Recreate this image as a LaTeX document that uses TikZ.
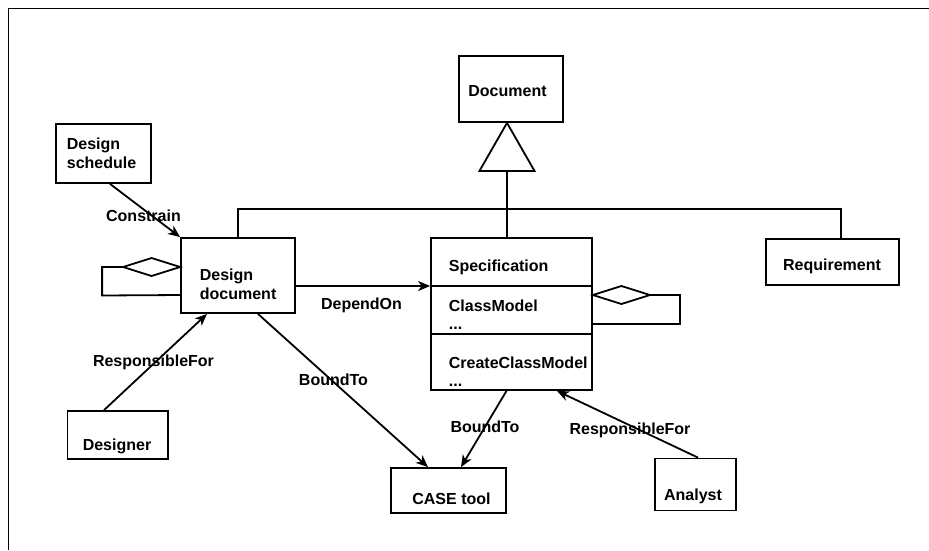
\documentclass[tikz,border=0pt]{standalone}
\usepackage{fontspec}
\setmainfont{Liberation Sans}
\usetikzlibrary{arrows.meta}
\begin{document}
\begin{tikzpicture}[x=1pt,y=-1pt,
  line width=1.8pt,
  box/.style={draw, rectangle, inner sep=0pt},
  txt/.style={inner sep=0pt, anchor=base, font=\bfseries\fontsize{16}{19}\selectfont},
  txtl/.style={txt, anchor=base west, align=left},
  arr/.style={-{Stealth[length=12pt,width=10pt,inset=3.5pt]}}
]
\useasboundingbox (0,0) rectangle (929,550);
\fill[white] (0,0) rectangle (929,550);
% frame
\draw[line width=1.8pt] (8.5,550) -- (8.5,8.5) -- (929,8.5);

% class boxes
\node[box, minimum width=104pt, minimum height=66pt] (doc)   at (511,89)  {};
\node[box, minimum width=95pt,  minimum height=59pt] (sched) at (103.5,153.5) {};
\node[box, minimum width=114pt, minimum height=75pt] (dd)    at (238,275.5) {};
\node[box, minimum width=161pt, minimum height=152pt] (spec) at (511.5,314) {};
\node[box, minimum width=133pt, minimum height=46pt] (req)   at (832.5,262) {};
\node[box, minimum width=100.5pt, minimum height=48pt] (dsg)  at (117.75,435) {};
\node[box, minimum width=115pt, minimum height=45pt] (case)  at (448.5,490.5) {};
\node[box, minimum width=81pt,  minimum height=52pt] (ana)   at (695.5,484.5) {};

% compartments of Specification
\draw (spec.west |- 0,286) -- (spec.east |- 0,286);
\draw (spec.west |- 0,334) -- (spec.east |- 0,334);

% texts (multi-line nodes sit on the baseline of their last line)
\node[txt] (tdoc) at (507.5,96) {Document};
\node[txtl] (tsched) at (66,168.3) {Design\\schedule};
\node[txtl] (tdd) at (199,299.3) {Design\\document};
\node[txtl] (tspec) at (448,271) {Specification};
\node[txtl] (tcm) at (448,311) {ClassModel};
\node[txtl] (tcmd) at (448,329) {...};
\node[txtl] (tccm) at (448,368) {CreateClassModel};
\node[txtl] (tccmd) at (448,386) {...};
\node[txt] (treq) at (832,270) {Requirement};
\node[txt] (tdsg) at (117,450) {Designer};
\node[txt] (tcase) at (451.5,504) {CASE tool};
\node[txt] (tana) at (693,500.5) {Analyst};

% generalization
\coordinate (apex) at ([xshift=-4pt]doc.south);
\draw[line join=miter] (apex) -- ++(27.5,48) -- ++(-55,0) -- cycle;
\coordinate (tribase) at ([yshift=-48pt]apex);
\draw (tribase) -- (tribase |- spec.north);
\draw (dd.north) -- (dd.north |- 0,209) -- (841,209) coordinate (rcorner) -- (rcorner |- req.north);

% aggregation loops
\coordinate (ddA) at ([yshift=8.5pt]dd.west);
\draw[line join=miter] (ddA) -- ++(-28.5,-9) -- ++(-28.5,9) -- ++(28.5,9) -- cycle;
\draw (ddA) ++(-57,0) -- ++(-21,0) -- ++(0,28.5) -- ([yshift=-19.5pt]dd.west);
\coordinate (spA) at (spec.east |- 0,295);
\draw[line join=miter] (spA) -- ++(28.5,-9) -- ++(28.5,9) -- ++(-28.5,9) -- cycle;
\draw (spA) ++(57,0) -- ++(30,0) -- ++(0,29) -- (spec.east |- 0,324);

% associations
\draw[arr] ([xshift=6.5pt]sched.south) -- (dd.north west);
\draw[arr] ([yshift=-10.5pt]dd.east) -- (spec.west |- 0,286);
\draw[arr] ([xshift=-13.75pt]dsg.north) -- ([xshift=-31pt]dd.south);
\draw[arr] ([xshift=20pt]dd.south) -- ([xshift=-20.5pt]case.north);
\draw[arr] ([xshift=-5pt]spec.south) -- ([xshift=12.5pt]case.north);
\draw[arr] ([xshift=2.5pt]ana.north) -- ([xshift=45.5pt]spec.south);

% association labels
\node[txt] (lcon) at (143.5,221.7) {Constrain};
\node[txt] (lrf1) at (153.5,366) {ResponsibleFor};
\node[txt] (ldep) at (361.5,309.3) {DependOn};
\node[txt] (lbt1) at (333.5,385) {BoundTo};
\node[txt] (lbt2) at (485,432.5) {BoundTo};
\node[txt] (lrf2) at (630,434) {ResponsibleFor};
\end{tikzpicture}
\end{document}
